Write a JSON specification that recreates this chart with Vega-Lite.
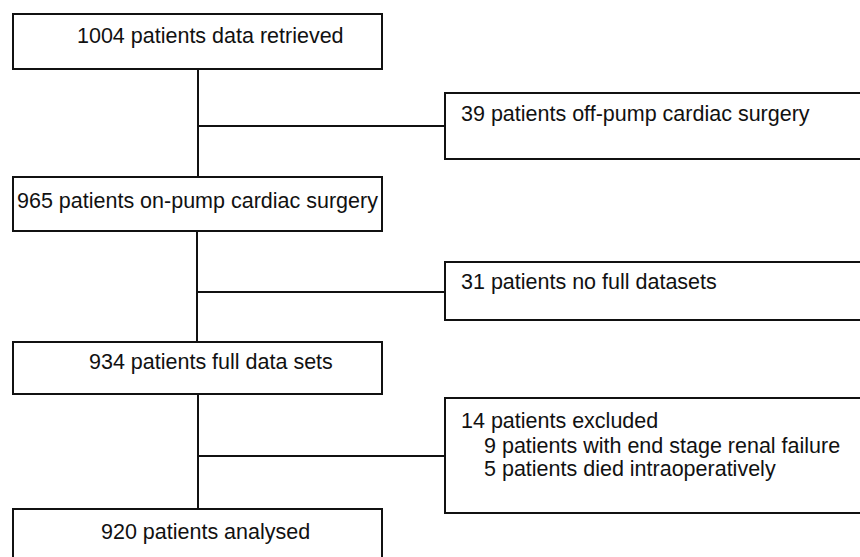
{
  "$schema": "https://vega.github.io/schema/vega-lite/v6.json",
  "width": 860,
  "height": 557,
  "padding": 0,
  "autosize": {"type": "none"},
  "background": "white",
  "config": {"view": {"stroke": null}},
  "datasets": {
    "boxes": [
      {"id": "b1", "x": 13, "x2": 382, "y": 14, "y2": 69},
      {"id": "b2", "x": 445, "x2": 920, "y": 93, "y2": 159},
      {"id": "b3", "x": 13, "x2": 382, "y": 177, "y2": 231},
      {"id": "b4", "x": 445, "x2": 920, "y": 262, "y2": 320},
      {"id": "b5", "x": 13, "x2": 382, "y": 342, "y2": 394},
      {"id": "b6", "x": 445, "x2": 920, "y": 398, "y2": 513},
      {"id": "b7", "x": 13, "x2": 382, "y": 509, "y2": 600}
    ],
    "links": [
      {"x": 198, "x2": 198, "y": 69, "y2": 177},
      {"x": 197, "x2": 197, "y": 231, "y2": 342},
      {"x": 198, "x2": 198, "y": 394, "y2": 509},
      {"x": 198, "x2": 445, "y": 126, "y2": 126},
      {"x": 197, "x2": 445, "y": 292, "y2": 292},
      {"x": 198, "x2": 445, "y": 456, "y2": 456}
    ],
    "labels": [
      {"label": "1004 patients data retrieved", "x": 77, "y": 37},
      {"label": "39 patients off-pump cardiac surgery", "x": 461, "y": 115},
      {"label": "965 patients on-pump cardiac surgery", "x": 17, "y": 202},
      {"label": "31 patients no full datasets", "x": 461, "y": 283},
      {"label": "934 patients full data sets", "x": 89, "y": 363},
      {"label": "14 patients excluded", "x": 461, "y": 422},
      {"label": "9 patients with end stage renal failure", "x": 484, "y": 447},
      {"label": "5 patients died intraoperatively", "x": 484, "y": 470},
      {"label": "920 patients analysed", "x": 101, "y": 533}
    ]
  },
  "layer": [
    {
      "data": {"name": "boxes"},
      "mark": {"type": "rect", "fill": "white", "stroke": "#111111", "strokeWidth": 2, "clip": true},
      "encoding": {
        "x": {"field": "x", "type": "quantitative", "scale": {"domain": [0, 860], "clamp": false}, "axis": null},
        "x2": {"field": "x2"},
        "y": {"field": "y", "type": "quantitative", "scale": {"domain": [557, 0], "clamp": false}, "axis": null},
        "y2": {"field": "y2"}
      }
    },
    {
      "data": {"name": "links"},
      "mark": {"type": "rule", "stroke": "#111111", "strokeWidth": 2},
      "encoding": {
        "x": {"field": "x", "type": "quantitative", "scale": {"domain": [0, 860]}, "axis": null},
        "x2": {"field": "x2"},
        "y": {"field": "y", "type": "quantitative", "scale": {"domain": [557, 0]}, "axis": null},
        "y2": {"field": "y2"}
      }
    },
    {
      "data": {"name": "labels"},
      "mark": {"type": "text", "align": "left", "baseline": "middle", "font": "Liberation Sans", "fontSize": 21.5, "fill": "#111111"},
      "encoding": {
        "x": {"field": "x", "type": "quantitative", "scale": {"domain": [0, 860]}, "axis": null},
        "y": {"field": "y", "type": "quantitative", "scale": {"domain": [557, 0]}, "axis": null},
        "text": {"field": "label", "type": "nominal"}
      }
    }
  ]
}
